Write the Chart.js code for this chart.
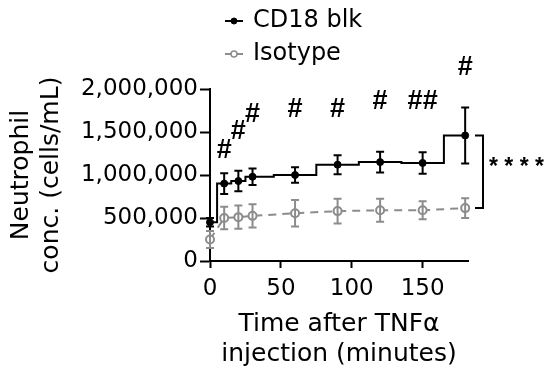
<!DOCTYPE html>
<html>
<head>
<meta charset="utf-8">
<script src="https://cdn.jsdelivr.net/npm/chart.js@4/dist/chart.umd.min.js"></script>
<style>
  html, body { margin: 0; padding: 0; background: #ffffff; }
  #wrap { width: 550px; height: 380px; }
</style>
</head>
<body>
<div id="wrap"><canvas id="chart" width="550" height="380"></canvas></div>
<script>
// minutes after TNFa injection
const timePoints = [0, 10, 20, 30, 60, 90, 120, 150, 180];

// neutrophil concentration (cells/mL), mean and error
const cd18Mean = [450000, 900000, 930000, 980000, 1000000, 1120000, 1150000, 1140000, 1460000];
const cd18Err = [50000, 120000, 120000, 95000, 90000, 110000, 120000, 125000, 325000];
const isoMean = [250000, 500000, 510000, 525000, 555000, 580000, 590000, 590000, 615000];
const isoErr = [100000, 130000, 135000, 135000, 155000, 145000, 135000, 105000, 115000];

// "#" marks over the CD18 points and the level they sit at
const hashLabels = ['', '#', '#', '#', '#', '#', '#', '##', '#'];
const hashLevels = [null, 1290000, 1500000, 1700000, 1756000, 1756000, 1850000, 1850000, 2245000];

const xTicks = [0, 50, 100, 150];
const yTicks = [0, 500000, 1000000, 1500000, 2000000];

const GREY = `#8c8c8c`;
const FONT = `'DejaVu Sans', sans-serif`;

const toPoints = (means) => timePoints.map((t, i) => ({x: t, y: means[i]}));

const errorBars = {
  id: `errorBars`,
  afterDatasetsDraw(chart) {
    const {ctx, scales: {x, y}} = chart;
    const sets = [[isoMean, isoErr, GREY], [cd18Mean, cd18Err, `#000000`]];
    ctx.save();
    sets.forEach(([means, errs, color]) => {
      ctx.strokeStyle = color;
      ctx.lineWidth = 2;
      timePoints.forEach((t, i) => {
        const px = x.getPixelForValue(t);
        const top = y.getPixelForValue(means[i] + errs[i]);
        const bot = y.getPixelForValue(means[i] - errs[i]);
        ctx.beginPath();
        ctx.moveTo(px, top);
        ctx.lineTo(px, bot);
        ctx.moveTo(px - 4, top);
        ctx.lineTo(px + 4, top);
        ctx.moveTo(px - 4, bot);
        ctx.lineTo(px + 4, bot);
        ctx.stroke();
      });
    });
    ctx.restore();
  }
};

const marks = {
  id: `marks`,
  afterDraw(chart) {
    const {ctx, scales: {x, y}, chartArea} = chart;
    ctx.save();
    ctx.fillStyle = `#000000`;
    ctx.textAlign = `center`;
    ctx.textBaseline = `middle`;
    ctx.font = `bold 27px 'Liberation Sans', Arial, sans-serif`;
    timePoints.forEach((t, i) => {
      if (hashLabels[i]) {
        ctx.fillText(hashLabels[i], x.getPixelForValue(t), y.getPixelForValue(hashLevels[i]));
      }
    });

    // bracket between the two last points
    const last = timePoints.length - 1;
    const y1 = y.getPixelForValue(cd18Mean[last]);
    const y2 = y.getPixelForValue(isoMean[last]);
    const bx = chartArea.right + 15;
    ctx.strokeStyle = `#000000`;
    ctx.lineWidth = 2;
    ctx.beginPath();
    ctx.moveTo(bx - 8, y1);
    ctx.lineTo(bx, y1);
    ctx.lineTo(bx, y2);
    ctx.lineTo(bx - 8, y2);
    ctx.stroke();
    ctx.textAlign = `left`;
    ctx.font = `bold 23px 'Liberation Sans', Arial, sans-serif`;
    ctx.fillText(`* * * *`, bx + 6, (y1 + y2) / 2 - 4);

    // legend
    const rows = [21, 54];
    chart.data.datasets.forEach((ds, i) => {
      const ly = rows[i];
      ctx.strokeStyle = ds.borderColor;
      ctx.lineWidth = 2;
      ctx.beginPath();
      ctx.moveTo(225, ly);
      ctx.lineTo(243, ly);
      ctx.stroke();
      ctx.beginPath();
      ctx.arc(234, ly, 3, 0, Math.PI * 2);
      ctx.fillStyle = ds.pointBackgroundColor;
      ctx.fill();
      ctx.strokeStyle = ds.pointBorderColor;
      ctx.lineWidth = i === 0 ? 1 : 1.5;
      ctx.stroke();
      ctx.fillStyle = `#000000`;
      ctx.font = `24px ${FONT}`;
      ctx.fillText(ds.label, 253, ly);
    });
    ctx.restore();
  }
};

new Chart(document.getElementById(`chart`), {
  type: `line`,
  plugins: [errorBars, marks],
  data: {
    datasets: [{
      label: `CD18 blk`,
      data: toPoints(cd18Mean),
      borderColor: `#000000`,
      borderWidth: 2,
      stepped: `middle`,
      pointRadius: 3.5,
      pointBackgroundColor: `#000000`,
      pointBorderColor: `#000000`,
      pointBorderWidth: 1,
      clip: false
    }, {
      label: `Isotype`,
      data: toPoints(isoMean),
      borderColor: GREY,
      borderWidth: 2,
      borderDash: [8, 6],
      pointRadius: 4,
      pointBackgroundColor: `#ffffff`,
      pointBorderColor: GREY,
      pointBorderWidth: 2,
      clip: false
    }]
  },
  options: {
    responsive: false,
    animation: false,
    layout: {
      padding: {top: 89, right: 82, bottom: 0, left: 0}
    },
    plugins: {
      legend: {display: false},
      tooltip: {enabled: false}
    },
    scales: {
      x: {
        type: `linear`,
        min: 0,
        max: 182,
        afterBuildTicks: (scale) => {
          scale.ticks = xTicks.map((v) => ({value: v}));
        },
        afterFit: (scale) => {
          scale.height = 119;
        },
        border: {color: `#000000`, width: 2},
        grid: {drawOnChartArea: false, drawTicks: true, tickLength: 7, tickColor: `#000000`, tickWidth: 2},
        ticks: {color: `#000000`, font: {family: FONT, size: 23}, padding: 7, maxRotation: 0},
        title: {
          display: true,
          text: [`Time after TNFα`, `injection (minutes)`],
          color: `#000000`,
          font: {family: FONT, size: 25, lineHeight: 1.18},
          padding: {bottom: 11}
        }
      },
      y: {
        min: 0,
        max: 2000000,
        afterBuildTicks: (scale) => {
          scale.ticks = yTicks.map((v) => ({value: v}));
        },
        afterFit: (scale) => {
          scale.width = 210;
        },
        border: {color: `#000000`, width: 2},
        grid: {drawOnChartArea: false, drawTicks: true, tickLength: 10, tickColor: `#000000`, tickWidth: 2},
        ticks: {
          color: `#000000`,
          font: {family: FONT, size: 23},
          padding: 2,
          callback: (v) => v.toLocaleString(`en-US`)
        },
        title: {
          display: true,
          text: [`Neutrophil`, `conc. (cells/mL)`],
          color: `#000000`,
          font: {family: FONT, size: 25, lineHeight: 1.2},
          padding: {top: 6}
        }
      }
    }
  }
});
</script>
</body>
</html>
